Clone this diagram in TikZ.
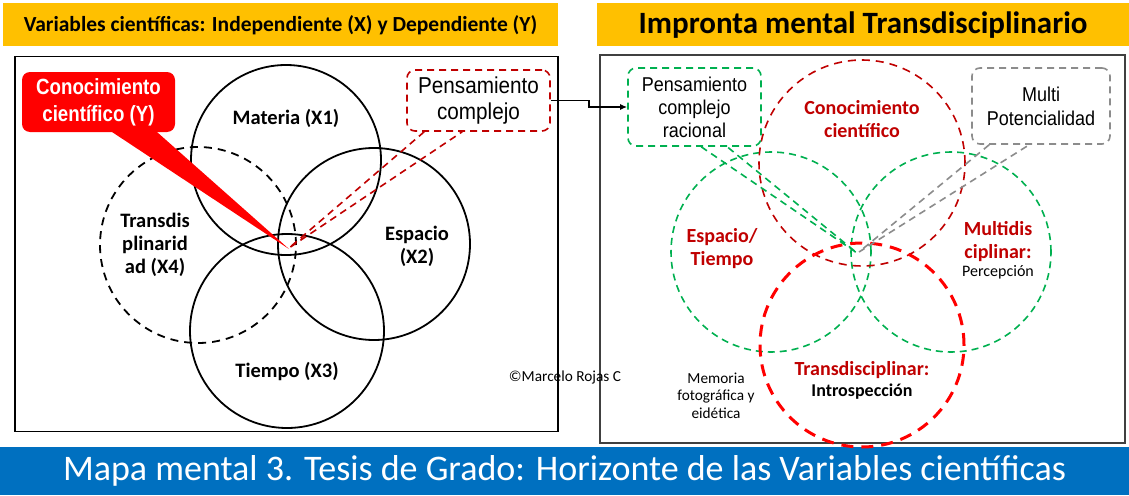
\documentclass[tikz,border=0pt]{standalone}
\usepackage{fontspec}
\setmainfont{Carlito}
\newfontfamily\narrowf[FakeStretch=0.9]{Liberation Sans}
\newfontfamily\narrowbf[FakeStretch=0.85]{Liberation Sans Bold}
\usetikzlibrary{calc,arrows.meta}
\definecolor{bannery}{HTML}{FFC000}
\definecolor{darkred}{HTML}{C00000}
\definecolor{dgreen}{HTML}{00B050}
\definecolor{bblue}{HTML}{0070C0}
\definecolor{dgray}{HTML}{8C8C8C}
\begin{document}
\begin{tikzpicture}[x=1pt,y=-1pt,
  circ/.style={draw=black, line width=1.8pt, circle, inner sep=0pt},
  dcirc/.style={circ, dash pattern=on 8pt off 6pt},
  gcirc/.style={draw=dgreen, line width=1.6pt, circle, inner sep=0pt, dash pattern=on 7pt off 5pt},
  rcirc/.style={draw=darkred, line width=1.6pt, circle, inner sep=0pt, dash pattern=on 8pt off 6pt},
  bcirc/.style={draw=red, line width=3pt, circle, inner sep=0pt, dash pattern=on 12pt off 8pt},
  lbl/.style={font=\fontsize{20.5}{23}\selectfont\bfseries, align=center, inner sep=0pt},
  rlbl/.style={font=\fontsize{20}{23}\selectfont\bfseries, text=darkred, align=center, inner sep=0pt},
  small/.style={font=\fontsize{15.3}{17.5}\selectfont, align=center, inner sep=0pt},
  bannerbox/.style={fill=bannery, inner sep=0pt},
  frame/.style={draw=black, line width=1.5pt},
  calloutbox/.style={rounded corners=8pt, inner sep=0pt, align=center, line width=1.6pt, dash pattern=on 7pt off 5pt}
]
\useasboundingbox (0,0) rectangle (1129,495);
\fill[white] (0,0) rectangle (1129,495);

% banners
\node[bannerbox, minimum width=555pt, minimum height=43pt, font=\fontsize{21.5}{24}\selectfont\bfseries] (bl) at (280.5,25) {Variables científicas: Independiente (X) y Dependiente (Y)};
\node[bannerbox, minimum width=532pt, minimum height=43pt, font=\fontsize{31}{34}\selectfont\bfseries] (br) at (863,25) {Impronta mental Transdisciplinario};
\node[fill=bblue, inner sep=0pt, minimum width=1129pt, minimum height=48pt, text=white, font=\fontsize{36}{40}\selectfont] (bb) at (564.5,471) {Mapa mental 3. Tesis de Grado: Horizonte de las Variables científicas};

% frames
\node[frame, inner sep=0pt, minimum width=543pt, minimum height=375pt] (lf) at (286.5,244) {};
\node[draw=black!75, line width=1.2pt, inner sep=0pt, minimum width=525pt, minimum height=388pt] (rf) at (862.5,249) {};

% left circles
\node[circ, minimum size=190pt] (mat) at (286,160) {};
\node[circ, minimum size=192pt] (esp) at (374,244) {};
\node[circ, minimum size=194pt] (tie) at (287,331) {};
\node[dcirc, minimum size=196pt] (tra) at (198,245) {};

\node[lbl] (lmat) at (286,118) {Materia (X1)};
\node[lbl] (lesp) at (417,246) {Espacio\\(X2)};
\node[lbl] (ltie) at (287,371) {Tiempo (X3)};
\node[lbl] (ltra) at (155,245) {Transdis\\plinarid\\ad (X4)};

% Conocimiento cientifico (Y) callout
\coordinate (tipY) at (289,249);
\node[fill=red, rounded corners=8pt, minimum width=153pt, minimum height=60pt, inner sep=0pt, text=white, align=center, font=\narrowbf\fontsize{22}{27}\selectfont] (cy) at (98.5,102) {Conocimiento\\científico (Y)};
\fill[red] ($(cy.south west)+(86,-3)$) -- (tipY) -- ($(cy.south west)+(132,-3)$) -- cycle;

% Pensamiento complejo callout
\node[calloutbox, draw=darkred, minimum width=143pt, minimum height=61pt, font=\narrowf\fontsize{23}{26}\selectfont] (pc) at (478.5,100.5) {Pensamiento\\complejo};
\coordinate (tipP) at (289,248);
\draw[draw=darkred, line width=1.6pt, dash pattern=on 7pt off 5pt] ($(pc.south west)+(18,0)$) -- (tipP) -- ($(pc.south west)+(56,0)$);

% copyright
\node[small] (copy) at (565,377) {©Marcelo Rojas C};

% right circles
\node[gcirc, minimum size=200pt] (gl) at (771,252) {};
\node[gcirc, minimum size=200pt] (gr) at (951,252) {};
\node[rcirc, minimum size=206pt] (rt) at (862,163) {};
\node[bcirc, minimum size=204pt] (rb) at (862,345) {};

\node[rlbl] (lcc) at (862,119.5) {Conocimiento\\científico};
\node[rlbl] (let) at (722,248.5) {Espacio/\\Tiempo};
\node[rlbl] (lmd) at (998,242) {Multidis\\ciplinar:};
\node[small, font=\fontsize{16}{18}\selectfont] (lper) at (998,272) {Percepción};
\node[rlbl] (ltd) at (862,370) {Transdisciplinar:};
\node[lbl, font=\fontsize{18}{20}\selectfont\bfseries] (lin) at (862,392) {Introspección};
\node[small] (lmem) at (716,395.5) {Memoria\\fotográfica y\\eidética};

% Pensamiento complejo racional
\node[calloutbox, draw=dgreen, minimum width=133pt, minimum height=78pt, font=\narrowf\fontsize{20}{23}\selectfont] (pcr) at (694.5,107) {Pensamiento\\complejo\\racional};
\coordinate (tipG) at (857,253);
\draw[draw=dgreen, line width=1.6pt, dash pattern=on 7pt off 5pt] ($(pcr.south west)+(74,0)$) -- (tipG) -- ($(pcr.south west)+(100,0)$);

% Multi Potencialidad
\node[calloutbox, draw=dgray, minimum width=138pt, minimum height=76pt, font=\narrowf\fontsize{20}{24}\selectfont] (mp) at (1041,106) {Multi\\Potencialidad};
\coordinate (tipM) at (859,252);
\draw[draw=dgray, line width=1.6pt, dash pattern=on 7pt off 5pt] ($(mp.south west)+(18,0)$) -- (tipM) -- ($(mp.south west)+(58,0)$);

% connector
\draw[line width=1.5pt, -{Latex[length=7pt,width=6pt]}] (pc.east) -- ++(38,0) |- (pcr.west);
\end{tikzpicture}
\end{document}
